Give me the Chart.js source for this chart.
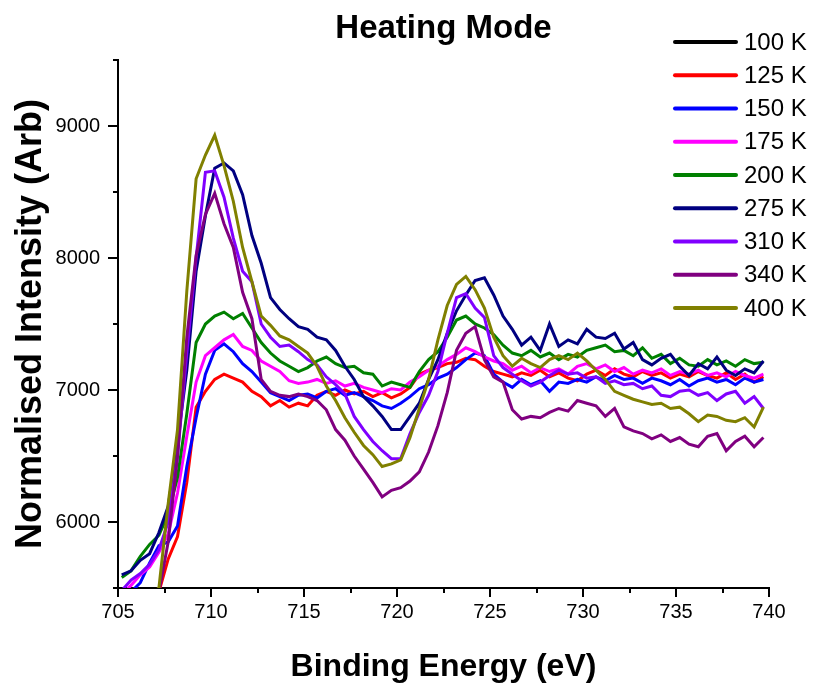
<!DOCTYPE html>
<html>
<head>
<meta charset="utf-8">
<script src="https://cdn.jsdelivr.net/npm/chart.js@4.4.0/dist/chart.umd.min.js"></script>
<style>
  html, body { margin: 0; padding: 0; background: #fff; }
  #wrap { width: 818px; height: 684px; position: relative; }
</style>
</head>
<body>
<div id="wrap"><canvas id="heatingChart"></canvas></div>
<script>
// Binding energy grid (eV)
const energy = [
  705.2, 705.7, 706.2, 706.7, 707.2, 707.7, 708.2, 708.7, 709.2, 709.7,
  710.2, 710.7, 711.2, 711.7, 712.2, 712.7, 713.2, 713.7, 714.2, 714.7,
  715.2, 715.7, 716.2, 716.7, 717.2, 717.7, 718.2, 718.7, 719.2, 719.7,
  720.2, 720.7, 721.2, 721.7, 722.2, 722.7, 723.2, 723.7, 724.2, 724.7,
  725.2, 725.7, 726.2, 726.7, 727.2, 727.7, 728.2, 728.7, 729.2, 729.7,
  730.2, 730.7, 731.2, 731.7, 732.2, 732.7, 733.2, 733.7, 734.2, 734.7,
  735.2, 735.7, 736.2, 736.7, 737.2, 737.7, 738.2, 738.7, 739.2, 739.7
];

// 100 K trace is not visible in the figure (covered by the others)
const k100 = [];
const k125 = [
  5420, 5430, 5440, 5460, 5470, 5720, 5890, 6300, 6870, 6990,
  7080, 7120, 7090, 7060, 6990, 6950, 6880, 6920, 6870, 6900,
  6880, 6960, 6990, 6960, 7000, 6970, 6990, 6950, 6980, 6940,
  6970, 7020, 7120, 7150, 7170, 7200, 7210, 7240, 7230, 7180,
  7140, 7120, 7100, 7130, 7110, 7150, 7100, 7130, 7090, 7070,
  7120, 7150, 7110, 7160, 7120, 7100, 7140, 7110, 7130, 7090,
  7120, 7100, 7140, 7110, 7090, 7130, 7080, 7120, 7060, 7100
];
const k150 = [
  5430, 5470, 5540, 5690, 5820, 5850, 5970, 6420, 6790, 7120,
  7300, 7350, 7290, 7200, 7140, 7060, 6980, 6950, 6920, 6960,
  6970, 6940, 6990, 7010, 6960, 6980, 6950, 6920, 6880, 6860,
  6900, 6950, 7010, 7040, 7090, 7120, 7170, 7230, 7280, 7260,
  7120, 7060, 7020, 7080, 7040, 7070, 6990, 7060, 7050, 7080,
  7060, 7100, 7070, 7110, 7080, 7090, 7050, 7090, 7070, 7040,
  7080, 7030, 7070, 7090, 7060, 7080, 7040, 7090, 7060, 7080
];
const k175 = [
  5450, 5520, 5600, 5660, 5770, 5910, 6220, 6650, 7060, 7260,
  7320, 7380, 7420, 7330, 7300, 7220, 7180, 7140, 7070, 7050,
  7060, 7080, 7050, 7070, 7030, 7050, 7020, 7000, 6980, 7010,
  7000, 7060, 7100, 7150, 7180, 7230, 7270, 7320, 7290, 7250,
  7220, 7200, 7150, 7180, 7130, 7170, 7140, 7160, 7120, 7180,
  7200, 7160, 7190, 7140, 7170, 7120, 7150, 7130, 7160, 7110,
  7140, 7120, 7150, 7110, 7130, 7100, 7140, 7110, 7090, 7120
];
const k200 = [
  5580, 5630, 5740, 5830, 5900, 6060, 6340, 6820, 7360, 7500,
  7560, 7590, 7540, 7580, 7470, 7360, 7280, 7220, 7180, 7140,
  7170, 7220, 7250, 7200, 7170, 7180, 7130, 7120, 7030, 7060,
  7040, 7020, 7140, 7230, 7290, 7400, 7530, 7560, 7500, 7470,
  7420, 7340, 7280, 7260, 7300, 7250, 7280, 7230, 7270, 7250,
  7300, 7320, 7340, 7290, 7300, 7260, 7320, 7240, 7270, 7200,
  7240, 7190, 7180, 7230, 7190, 7220, 7180, 7230, 7200, 7210
];
const k275 = [
  5600, 5630, 5710, 5760, 5920, 6120, 6600, 7150, 7900, 8320,
  8680, 8720, 8660, 8480, 8170, 7960, 7700, 7610, 7540, 7480,
  7460, 7400, 7380, 7300, 7180, 7080, 6950, 6880, 6800, 6700,
  6700, 6800, 6900, 7080, 7230, 7430, 7600, 7720, 7830, 7850,
  7720, 7560, 7460, 7340, 7400, 7300, 7500, 7330, 7380, 7350,
  7460, 7400, 7390, 7430, 7310, 7360, 7230, 7190, 7240, 7270,
  7180, 7110, 7200, 7160, 7250, 7150, 7110, 7160, 7130, 7220
];
const k310 = [
  5480, 5560, 5610, 5680, 5790, 6000, 6500, 7280, 8000, 8650,
  8660, 8460, 8150, 7900, 7820, 7500, 7400, 7330, 7340, 7290,
  7230, 7190, 7100, 7040, 6970, 6800, 6700, 6610, 6540, 6480,
  6480, 6670, 6830, 6960, 7140, 7430, 7700, 7730, 7620, 7550,
  7260, 7170, 7120, 7070, 7030, 7060, 7110, 7150, 7120, 7130,
  7090, 7100, 7050, 7070, 7040, 7050, 7010, 7030, 6960, 6950,
  6990, 7000, 6960, 6980, 6920, 6970, 6990, 6900, 6950, 6860
];
const k340 = [
  5400, 5420, 5440, 5450, 5470, 5850, 6500, 7400, 8020, 8330,
  8490, 8260, 8080, 7740, 7540, 7080, 6990, 6960, 6950, 6970,
  6950, 6920, 6850, 6700, 6620, 6500, 6400, 6300, 6190, 6240,
  6260, 6310, 6380, 6530, 6730, 6980, 7300, 7430, 7480, 7230,
  7100, 7060, 6850, 6780, 6800, 6790, 6830, 6860, 6840, 6920,
  6900, 6880, 6800, 6860, 6720, 6690, 6670, 6630, 6660, 6610,
  6640, 6590, 6570, 6650, 6670, 6540, 6610, 6650, 6570, 6640
];
const k400 = [
  5400, 5410, 5430, 5450, 5500, 6140, 6700, 7750, 8600, 8780,
  8930, 8700, 8430, 8080, 7820, 7560, 7490, 7410, 7380, 7330,
  7280, 7180, 7030, 6920, 6790, 6680, 6580, 6510, 6420, 6440,
  6470, 6640, 6860, 7080, 7380, 7640, 7800, 7860, 7760, 7620,
  7400, 7260, 7180, 7240, 7200, 7170, 7230, 7260, 7230, 7280,
  7220, 7150, 7080, 6990, 6960, 6930, 6910, 6890, 6900, 6860,
  6870, 6820, 6760, 6810, 6800, 6770, 6760, 6790, 6720, 6870
];

const seriesLabels = ['100 K', '125 K', '150 K', '175 K', '200 K', '275 K', '310 K', '340 K', '400 K'];
const seriesData = [k100, k125, k150, k175, k200, k275, k310, k340, k400];
const seriesColors = ['#000000', '#ff0000', '#0000ff', '#ff00ff', '#008000', '#000080', '#8000ff', '#800080', '#808000'];

const xTicks = [705, 710, 715, 720, 725, 730, 735, 740];
const xMinorTicks = [707.5, 712.5, 717.5, 722.5, 727.5, 732.5, 737.5];
const yTicks = [6000, 7000, 8000, 9000];
const yMinorTicks = [5500, 6500, 7500, 8500, 9500];

const FONT = "'Liberation Sans', Arial, sans-serif";

// tick marks (major + minor) drawn outside the plot, like the original
const tickMarks = {
    id: 'tickMarks',
    afterDraw(chart) {
        const { ctx, chartArea, scales: { x, y } } = chart;
        ctx.save();
        ctx.strokeStyle = '#000';
        ctx.lineWidth = 2;
        ctx.beginPath();
        xTicks.forEach(v => {
            const px = Math.round(x.getPixelForValue(v));
            ctx.moveTo(px, chartArea.bottom);
            ctx.lineTo(px, chartArea.bottom + 9);
        });
        xMinorTicks.forEach(v => {
            const px = Math.round(x.getPixelForValue(v));
            ctx.moveTo(px, chartArea.bottom);
            ctx.lineTo(px, chartArea.bottom + 5);
        });
        yTicks.forEach(v => {
            const py = Math.round(y.getPixelForValue(v));
            ctx.moveTo(chartArea.left, py);
            ctx.lineTo(chartArea.left - 10, py);
        });
        yMinorTicks.forEach(v => {
            const py = Math.round(y.getPixelForValue(v));
            ctx.moveTo(chartArea.left, py);
            ctx.lineTo(chartArea.left - 5, py);
        });
        ctx.stroke();
        ctx.restore();
    }
};

// legend drawn inside the top-right corner of the plot
const cornerLegend = {
    id: 'cornerLegend',
    afterDraw(chart) {
        const { ctx } = chart;
        ctx.save();
        ctx.font = '24px ' + FONT;
        ctx.textBaseline = 'middle';
        ctx.textAlign = 'left';
        chart.data.datasets.forEach((ds, i) => {
            const yy = 42 + i * 33.25;
            ctx.strokeStyle = ds.borderColor;
            ctx.lineWidth = 4;
            ctx.lineCap = 'round';
            ctx.beginPath();
            ctx.moveTo(675, yy);
            ctx.lineTo(736, yy);
            ctx.stroke();
            ctx.fillStyle = '#000';
            ctx.fillText(ds.label, 744, yy + 1);
        });
        ctx.restore();
    }
};

const ctx = document.getElementById('heatingChart').getContext('2d');
const heatingChart = new Chart(ctx, {
    type: 'line',
    data: {
        datasets: seriesLabels.map((label, i) => ({
            label: label,
            data: seriesData[i].map((v, j) => ({ x: energy[j], y: v })),
            borderColor: seriesColors[i],
            backgroundColor: seriesColors[i],
            borderWidth: 3,
            pointRadius: 0,
            tension: 0,
            fill: false,
            order: seriesLabels.length - i
        }))
    },
    options: {
        responsive: true,
        maintainAspectRatio: false,
        animation: false,
        layout: { padding: { left: 0, right: 49, top: 0, bottom: 0 } },
        plugins: {
            legend: { display: false },
            tooltip: { enabled: false },
            title: {
                display: true,
                text: 'Heating Mode',
                fullSize: false,
                color: '#000',
                font: { family: FONT, size: 33, weight: 'bold', lineHeight: 1.2 },
                padding: { top: 9, bottom: 11.4 }
            }
        },
        scales: {
            x: {
                type: 'linear',
                min: 705,
                max: 740,
                afterBuildTicks: scale => { scale.ticks = xTicks.map(v => ({ value: v })); },
                afterFit: scale => { scale.height = 96; },
                grid: { display: false, drawTicks: false },
                border: { display: true, color: '#000', width: 2 },
                ticks: {
                    color: '#000',
                    padding: 12,
                    maxRotation: 0,
                    font: { family: FONT, size: 20 },
                    callback: v => v.toString()
                },
                title: {
                    display: true,
                    text: 'Binding Energy (eV)',
                    color: '#000',
                    font: { family: FONT, size: 32, weight: 'bold', lineHeight: 1 },
                    padding: { top: 0, bottom: 1 }
                }
            },
            y: {
                min: 5500,
                max: 9500,
                afterBuildTicks: scale => { scale.ticks = yTicks.map(v => ({ value: v })); },
                afterFit: scale => { scale.width = 118; },
                grid: { display: false, drawTicks: false },
                border: { display: true, color: '#000', width: 2 },
                ticks: {
                    color: '#000',
                    padding: 18,
                    font: { family: FONT, size: 20 },
                    callback: v => v.toString()
                },
                title: {
                    display: true,
                    text: 'Normalised Intensity (Arb)',
                    color: '#000',
                    font: { family: FONT, size: 36, weight: 'bold', lineHeight: 1 },
                    padding: { top: 13, bottom: 0 }
                }
            }
        }
    },
    plugins: [tickMarks, cornerLegend]
});
</script>
</body>
</html>
